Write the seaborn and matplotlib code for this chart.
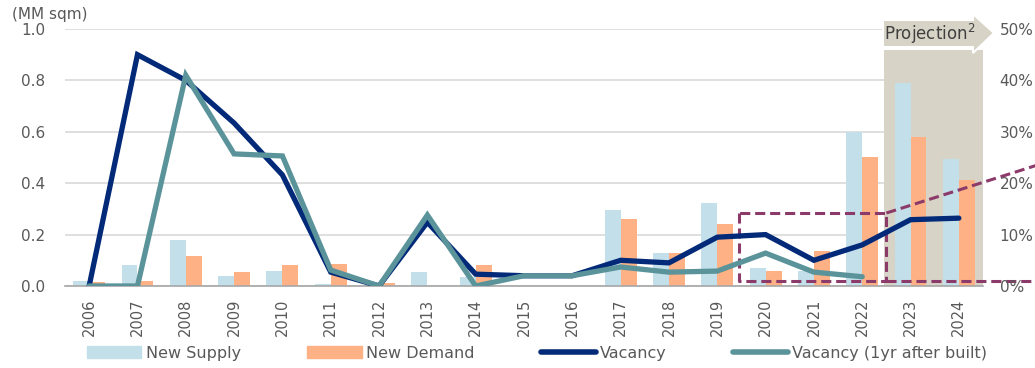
import numpy as np
import pandas as pd
import seaborn as sns
import matplotlib
matplotlib.use("Agg")
import matplotlib.pyplot as plt
from matplotlib.patches import Patch, Polygon
from matplotlib.lines import Line2D

# ---- data ----
years = [str(y) for y in range(2006, 2025)]
new_supply = [0.02, 0.08, 0.18, 0.04, 0.06, 0.008, 0.0, 0.055, 0.035, 0.0, 0.0,
              0.296, 0.128, 0.323, 0.07, 0.06, 0.60, 0.79, 0.494]
new_demand = [0.015, 0.02, 0.115, 0.055, 0.083, 0.085, 0.012, 0.0, 0.08, 0.0, 0.0,
              0.26, 0.13, 0.241, 0.058, 0.137, 0.503, 0.58, 0.413]
vacancy = [0.0, 45.0, 40.0, 31.7, 21.6, 2.7, 0.0, 12.4, 2.3, 2.0, 2.0,
           5.0, 4.5, 9.5, 10.0, 5.0, 8.0, 12.9, 13.2]
vacancy_1yr = [0.0, 0.0, 41.0, 25.7, 25.3, 3.1, 0.0, 13.8, 0.0, 2.0, 2.0,
               3.7, 2.7, 2.9, 6.4, 2.7, 1.8, np.nan, np.nan]
left_ticks = [0.0, 0.2, 0.4, 0.6, 0.8, 1.0]
right_ticks = [0, 10, 20, 30, 40, 50]

# ---- style ----
sns.set_theme(style="white")
plt.rcParams["font.family"] = ["DejaVu Sans"]
TXT = "#595959"
C_SUP = "#c2dfea"
C_DEM = "#fdb184"
C_VAC = "#022a78"
C_VAC1 = "#5a9399"
C_PROJ = "#d7d3c6"
C_DASH = "#8c3a6a"
GRID = "#d9d9d9"

W, H = 1035, 368
fig = plt.figure(figsize=(W / 100, H / 100), dpi=100)
ax = fig.add_axes([65 / W, 82 / H, 918 / W, 257 / H])

bars = pd.DataFrame({
    "Year": years * 2,
    "Value": new_supply + new_demand,
    "Series": ["New Supply"] * len(years) + ["New Demand"] * len(years),
})
sns.barplot(data=bars, x="Year", y="Value", hue="Series",
            palette=[C_SUP, C_DEM], width=0.66, saturation=1,
            linewidth=0, edgecolor="none",
            ax=ax, legend=False, zorder=2)

ax.set_xlim(-0.5, len(years) - 0.5)
ax.set_ylim(0, 1.0)
ax.set_yticks(left_ticks)
ax.set_yticklabels([f"{v:.1f}" for v in left_ticks])
ax.set_xlabel("")
ax.set_ylabel("")
ax.yaxis.grid(True, color=GRID, lw=1.2)
ax.set_axisbelow(True)

# projection shading behind the bars
ax.axvspan(16.45, 18.5, ymin=0, ymax=0.918, color=C_PROJ, lw=0, zorder=1)

for s in ["top", "left", "right"]:
    ax.spines[s].set_visible(False)
ax.spines["bottom"].set_color("#a6a6a6")
ax.spines["bottom"].set_linewidth(1.2)
ax.spines["bottom"].set_zorder(3)
ax.tick_params(axis="y", length=0, pad=14, labelsize=11, labelcolor=TXT)
ax.tick_params(axis="x", which="major", length=0, pad=9, labelsize=10.5,
               labelcolor=TXT, rotation=90)
ax.set_xticks(np.arange(-0.5, len(years)), minor=True)
ax.tick_params(axis="x", which="minor", length=5, width=1.2, color="#a6a6a6",
               direction="out")

# vacancy lines on the secondary axis
ax2 = ax.twinx()
pos = np.arange(len(years))
sns.lineplot(x=pos, y=vacancy, ax=ax2, color=C_VAC, linewidth=3.8,
             solid_capstyle="round", solid_joinstyle="miter", zorder=4)
sns.lineplot(x=pos, y=vacancy_1yr, ax=ax2, color=C_VAC1, linewidth=3.8,
             solid_capstyle="round", solid_joinstyle="miter", zorder=5)
ax2.set_ylim(0, 50)
ax2.set_xlim(-0.5, len(years) - 0.5)
ax2.set_yticks(right_ticks)
ax2.set_yticklabels([f"{v}%" for v in right_ticks])
ax2.tick_params(axis="y", length=0, pad=12, labelsize=11, labelcolor=TXT)
for s in ["top", "left", "right", "bottom"]:
    ax2.spines[s].set_visible(False)
ax2.set_ylabel("")

# dashed call-out box and its guide lines
dash = dict(color=C_DASH, lw=2.2, linestyle=(0, (3.3, 1.6)), clip_on=False,
            zorder=3)
ax.plot([13.45, 13.45, 16.5, 16.5, 13.45], [0.284, 0.02, 0.02, 0.284, 0.284], **dash)
ax.plot([16.5, 19.7], [0.284, 0.475], **dash)
ax.plot([16.5, 19.7], [0.02, 0.02], **dash)

# "Projection" arrow banner
pts_px = [(883, 20), (973, 20), (973, 14), (994, 33), (973, 53), (973, 47), (883, 47)]
pts = [(x / W, 1 - y / H) for x, y in pts_px]
fig.patches.append(Polygon(pts, closed=True, facecolor=C_PROJ, edgecolor="white",
                           lw=1.5, transform=fig.transFigure, zorder=6))
fig.text(884 / W, 1 - 34 / H, "Projection$^{2}$", ha="left", va="center",
         fontsize=12, color="#404040", zorder=7)

fig.text(12 / W, 1 - 15 / H, "(MM sqm)", ha="left", va="center",
         fontsize=11, color=TXT)

handles = [Patch(color=C_SUP), Patch(color=C_DEM),
           Line2D([], [], color=C_VAC, lw=4), Line2D([], [], color=C_VAC1, lw=4)]
labels = ["New Supply", "New Demand", "Vacancy", "Vacancy (1yr after built)"]
fig.legend(handles, labels, ncol=4, loc="center", bbox_to_anchor=(0.519, 0.04),
           frameon=False, fontsize=11.5, labelcolor=TXT, handlelength=3.4,
           handleheight=0.8, handletextpad=0.3, columnspacing=4.15)

fig.savefig("out.png", dpi=100)
